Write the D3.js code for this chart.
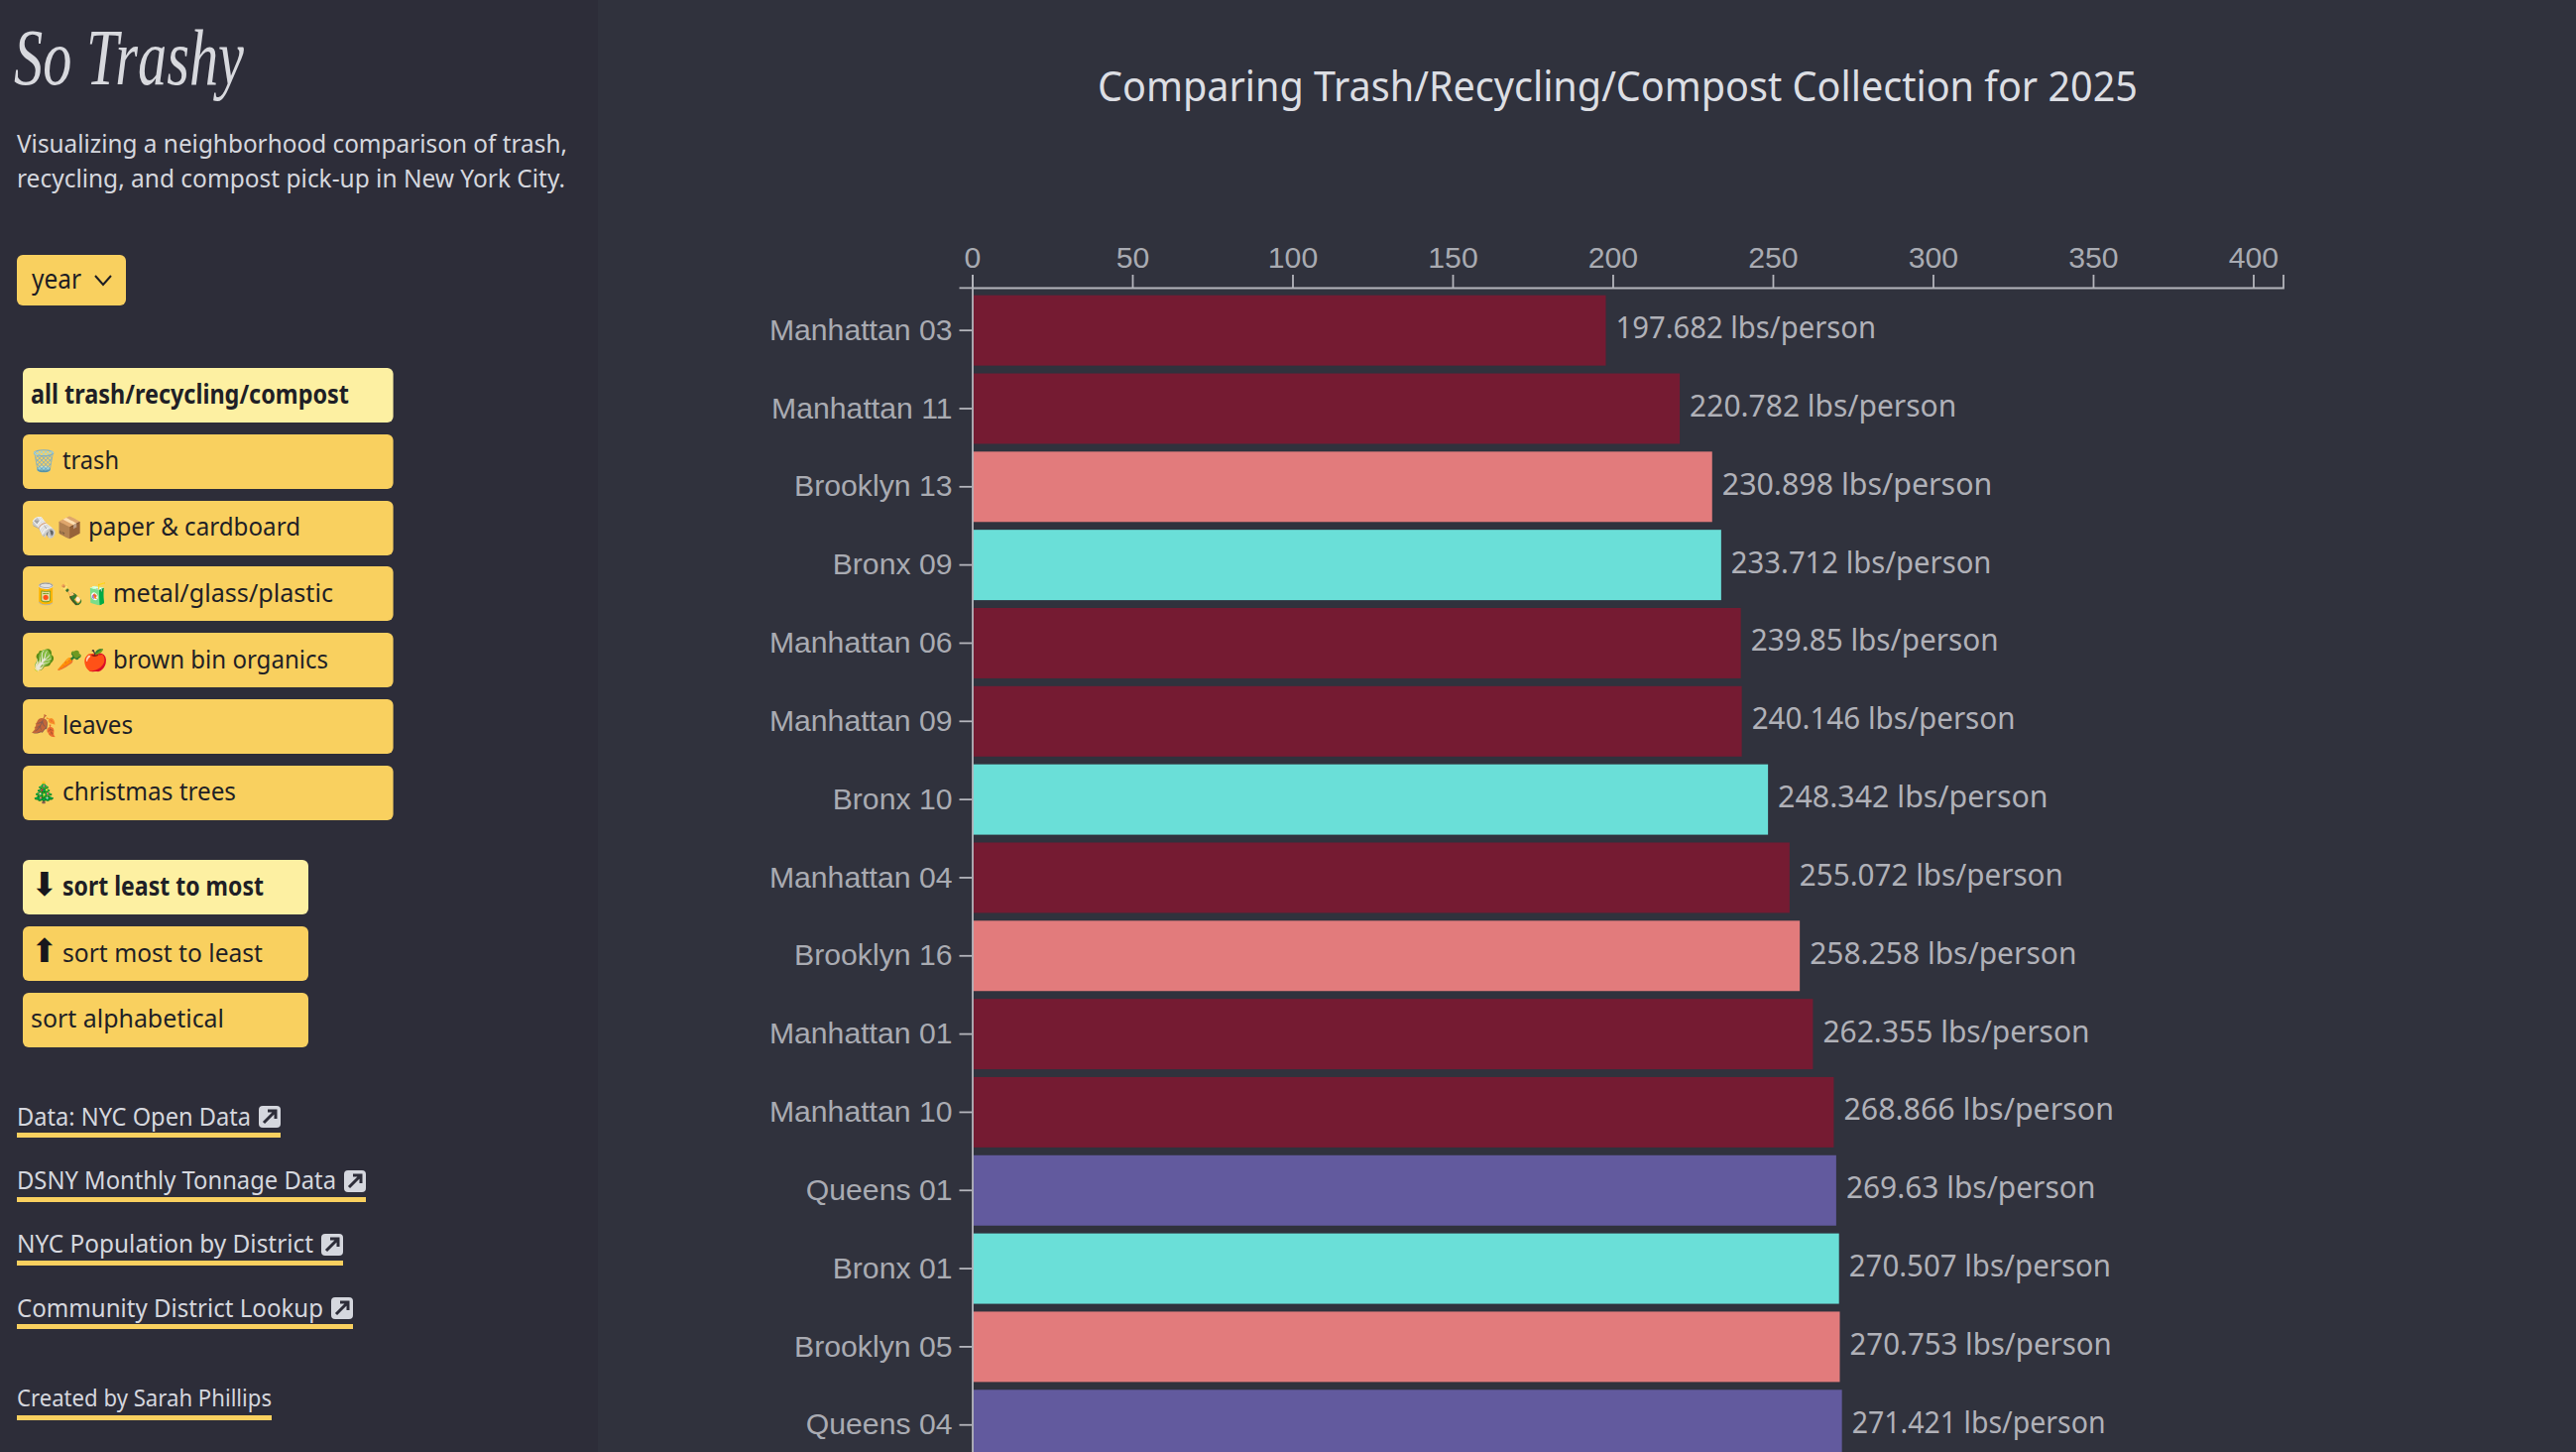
<!DOCTYPE html>
<html>
<head>
<meta charset="utf-8">
<title>So Trashy</title>
<script src="https://cdn.jsdelivr.net/npm/d3@7/dist/d3.min.js"></script>
<style>
  html, body { margin: 0; padding: 0; background: #30323d; overflow: hidden; }
  svg { display: block; }
  .ui { font-family: "Noto Sans", "Open Sans", sans-serif; }
  .axis text { font-family: "Liberation Sans", Arial, sans-serif; font-size: 30.2px; fill: #a9abb2; }
  .axis path, .axis line { stroke: #b4b5bc; stroke-width: 1.8px; }
</style>
</head>
<body>
<svg id="page" width="2598" height="1464"></svg>
<script>
// Collection per person for each community district, lightest first
const districts = ["Manhattan 03","Manhattan 11","Brooklyn 13","Bronx 09","Manhattan 06","Manhattan 09","Bronx 10","Manhattan 04","Brooklyn 16","Manhattan 01","Manhattan 10","Queens 01","Bronx 01","Brooklyn 05","Queens 04"];
const lbsPerPerson = [197.682,220.782,230.898,233.712,239.85,240.146,248.342,255.072,258.258,262.355,268.866,269.63,270.507,270.753,271.421];
const boroughs = ["Manhattan","Brooklyn","Bronx","Queens"];
const boroughColors = ["#751b32","#e27b7c","#6adfd8","#625a9e"];
const xTicks = [0,50,100,150,200,250,300,350,400];

const wasteButtons = ["all trash/recycling/compost","trash","paper & cardboard","metal/glass/plastic","brown bin organics","leaves","christmas trees"];
const wasteIcons = ["","🗑️","🗞️📦","🥫🍾🧃","🥬🥕🍎","🍂","🎄"];
const sortButtons = ["sort least to most","sort most to least","sort alphabetical"];
const sortIcons = ["⬇\uFE0E","⬆\uFE0E",""];
const sourceLinks = ["Data: NYC Open Data","DSNY Monthly Tonnage Data","NYC Population by District","Community District Lookup"];

const svg = d3.select("#page");

// Page panels
svg.append("rect").attr("width", 2598).attr("height", 1464).attr("fill", "#30323d");
svg.append("rect").attr("width", 603).attr("height", 1464).attr("fill", "#2d2d39");

// Chart scales
const x = d3.scaleLinear().domain([0, 409.3]).range([981, 2303]);
const y = d3.scaleBand().domain(districts).range([289.8, 1480.1]).padding(0.1);
const color = d3.scaleOrdinal().domain(boroughs).range(boroughColors);
const rows = districts.map((d, i) => ({ name: d, value: lbsPerPerson[i], borough: d.split(" ")[0] }));

// Run length of a value label, allowing for the narrower numerals
function labelRun(text) {
  const count = ch => text.split(ch).length - 1;
  const digits = text.replace(/[^0-9]/g, "").length;
  return 272.5 - (6 - digits) * 21 - 6.6 * count("1") - 3.3 * count("7") - 1.6 * count("5");
}

const chart = svg.append("g");

chart.append("text").attr("class", "ui")
  .attr("x", 1631.5).attr("y", 102)
  .attr("text-anchor", "middle")
  .attr("font-size", 41).attr("fill", "#dcdee3")
  .attr("textLength", 1049).attr("lengthAdjust", "spacingAndGlyphs")
  .text("Comparing Trash/Recycling/Compost Collection for 2025");

chart.selectAll("rect.bar").data(rows).join("rect")
  .attr("class", "bar")
  .attr("x", x(0))
  .attr("y", d => y(d.name))
  .attr("width", d => x(d.value) - x(0))
  .attr("height", y.bandwidth())
  .attr("fill", d => color(d.borough));

chart.selectAll("text.value").data(rows).join("text")
  .attr("class", "value ui")
  .attr("x", d => x(d.value) + 10)
  .attr("y", d => y(d.name) + y.bandwidth() / 2 + 8)
  .attr("font-size", 30.5)
  .attr("fill", "#b0b1b8")
  .attr("textLength", d => labelRun(`${d.value} lbs/person`))
  .attr("lengthAdjust", "spacingAndGlyphs")
  .text(d => `${d.value} lbs/person`);

chart.append("g").attr("class", "axis")
  .attr("transform", "translate(-0.5,290)")
  .call(d3.axisTop(x).tickValues(xTicks).tickSize(13).tickPadding(7));

chart.append("g").attr("class", "axis")
  .attr("transform", "translate(980.5,0)")
  .call(d3.axisLeft(y).tickSize(13).tickPadding(7));

// Sidebar text, squeezed or stretched to its measured run
function fit(sel, width) {
  sel.attr("textLength", width).attr("lengthAdjust", "spacingAndGlyphs");
  return sel;
}
const side = svg.append("g").attr("class", "ui");

fit(side.append("text")
  .attr("x", 14).attr("y", 85)
  .attr("font-family", "Liberation Serif, serif")
  .attr("font-style", "italic")
  .attr("font-size", 80)
  .attr("fill", "#d8d9de")
  .text("So Trashy"), 232);

[["Visualizing a neighborhood comparison of trash,", 17, 154, 555],
 ["recycling, and compost pick-up in New York City.", 17, 189, 553]].forEach(([t, tx, ty, w]) => {
  fit(side.append("text").attr("x", tx).attr("y", ty).attr("font-size", 26).attr("fill", "#d5d7de").text(t), w);
});

// Year dropdown
side.append("rect").attr("x", 17).attr("y", 257).attr("width", 110).attr("height", 51).attr("rx", 6).attr("fill", "#f9d05f");
fit(side.append("text").attr("x", 32).attr("y", 291).attr("font-size", 28).attr("fill", "#1d1d24").text("year"), 50);
side.append("path").attr("d", d3.line()([[96, 278], [104, 287], [112, 278]])).attr("fill", "none").attr("stroke", "#1d1d24").attr("stroke-width", 2);

// Filter and sort buttons
const buttonGeom = [
  { top: 371, h: 55, w: 373.6, tx: 31, tw: 321, base: 407, ix: 31 },
  { top: 438, h: 55, w: 373.6, tx: 63, tw: 57, base: 473, ix: 31 },
  { top: 505, h: 55, w: 373.6, tx: 89, tw: 214, base: 540, ix: 31 },
  { top: 571, h: 55, w: 373.6, tx: 114, tw: 222, base: 607, ix: 33 },
  { top: 638, h: 55, w: 373.6, tx: 114, tw: 217, base: 674, ix: 31 },
  { top: 705, h: 55, w: 373.6, tx: 63, tw: 71, base: 740, ix: 31 },
  { top: 772, h: 55, w: 373.6, tx: 63, tw: 175, base: 807, ix: 31 },
  { top: 867, h: 55, w: 288, tx: 63, tw: 203, base: 903, ix: 31 },
  { top: 934, h: 55, w: 288, tx: 63, tw: 202, base: 970, ix: 31 },
  { top: 1001, h: 55, w: 288, tx: 31, tw: 195, base: 1036, ix: 31 }
];
const buttons = wasteButtons.map((t, i) => ({ label: t, icon: wasteIcons[i], active: i === 0, emoji: true }))
  .concat(sortButtons.map((t, i) => ({ label: t, icon: sortIcons[i], active: i === 0, emoji: false })));

const btn = side.selectAll("g.btn").data(buttons).join("g").attr("class", "btn");
btn.append("rect")
  .attr("x", 23)
  .attr("y", (d, i) => buttonGeom[i].top)
  .attr("width", (d, i) => buttonGeom[i].w)
  .attr("height", (d, i) => buttonGeom[i].h)
  .attr("rx", 6)
  .attr("fill", d => d.active ? "#fdf0a2" : "#f9d05f");
btn.append("text")
  .attr("x", (d, i) => buttonGeom[i].tx)
  .attr("y", (d, i) => buttonGeom[i].base)
  .attr("font-size", 26)
  .attr("font-weight", d => d.active ? 700 : 400)
  .attr("fill", "#1f1f26")
  .attr("textLength", (d, i) => buttonGeom[i].tw)
  .attr("lengthAdjust", "spacingAndGlyphs")
  .text(d => d.label);
btn.append("text")
  .attr("x", (d, i) => buttonGeom[i].ix)
  .attr("y", (d, i) => buttonGeom[i].base - (d.emoji ? 1 : 0))
  .attr("font-size", d => d.emoji ? 21 : 33)
  .attr("font-family", d => d.emoji ? "Noto Color Emoji, sans-serif" : "DejaVu Sans, sans-serif")
  .attr("fill", "#17171c")
  .text(d => d.icon);

// Source links with an outbound badge
const linkGeom = [
  { base: 1135, end: 283, rule: 1142 },
  { base: 1199, end: 369, rule: 1207 },
  { base: 1263, end: 346, rule: 1271 },
  { base: 1328, end: 356, rule: 1335 }
];
const link = side.selectAll("g.link").data(sourceLinks).join("g").attr("class", "link");
link.append("text")
  .attr("x", 17).attr("y", (d, i) => linkGeom[i].base)
  .attr("font-size", 26).attr("fill", "#d5d7de")
  .attr("textLength", (d, i) => linkGeom[i].end - 30 - 17)
  .attr("lengthAdjust", "spacingAndGlyphs")
  .text(d => d);
link.append("rect")
  .attr("x", 17).attr("y", (d, i) => linkGeom[i].rule)
  .attr("width", (d, i) => linkGeom[i].end - 17).attr("height", 5)
  .attr("fill", "#f9d05f");
link.append("rect")
  .attr("x", (d, i) => linkGeom[i].end - 22)
  .attr("y", (d, i) => linkGeom[i].rule - 27)
  .attr("width", 22).attr("height", 22).attr("rx", 4)
  .attr("fill", "#d5d7de");
link.append("path")
  .attr("d", (d, i) => {
    const l = linkGeom[i].end - 22, t = linkGeom[i].rule - 27;
    return `M${l + 5},${t + 17}L${l + 16},${t + 6}M${l + 9},${t + 5}H${l + 17}V${t + 13}`;
  })
  .attr("fill", "none").attr("stroke", "#2d2d39").attr("stroke-width", 3);

fit(side.append("text").attr("x", 17).attr("y", 1418).attr("font-size", 24).attr("fill", "#d5d7de").text("Created by Sarah Phillips"), 257);
side.append("rect").attr("x", 17).attr("y", 1427).attr("width", 257).attr("height", 5).attr("fill", "#f9d05f");
</script>
</body>
</html>
